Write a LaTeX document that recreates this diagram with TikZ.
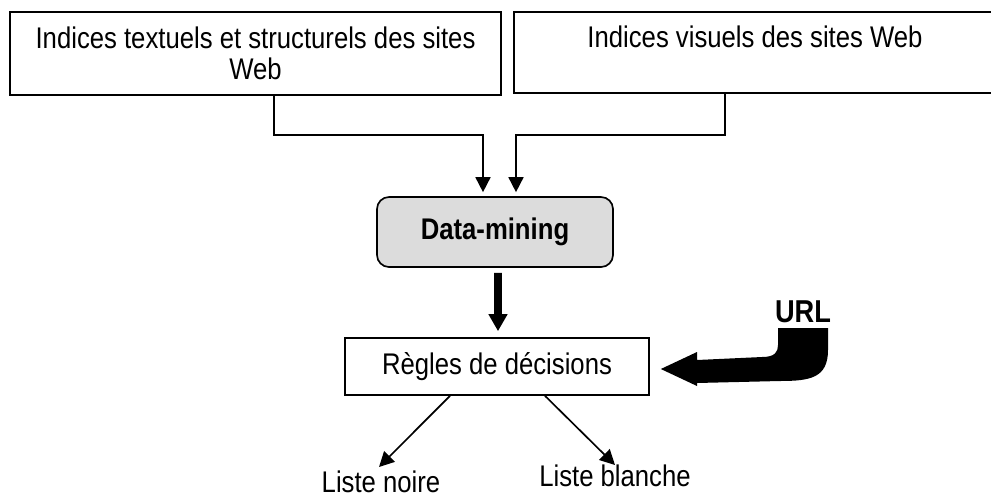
\documentclass[tikz,border=0pt]{standalone}
\usepackage{fontspec}
\setmainfont{Liberation Sans}[FakeStretch=0.86]
\usepackage{tikz}
\usetikzlibrary{calc}
\usetikzlibrary{arrows.meta}
\definecolor{grismine}{HTML}{DCDCDC}
\newcommand{\taille}{\fontsize{17}{17.8}\selectfont}
\tikzstyle{every node}=[font=\taille]
\tikzstyle{every path}=[line width=0.95pt,line join=miter]

\begin{document}
\begin{tikzpicture}
		\tikzstyle{cadre} = [draw,align=center,inner sep=0pt]
		\tikzstyle{fleche} = [-{Triangle[length=3mm, width=3mm]}]
		\useasboundingbox (0,0) rectangle (19.82,-9.98);
		
		\node[cadre,minimum width=9.82cm,minimum height=1.66cm] (textuels) at (5.11,-1.07) {Indices textuels et structurels des sites\\Web};
		\node[cadre,minimum width=9.64cm,minimum height=1.62cm] (visuels) at (15.10,-1.05) {Indices visuels des sites Web\\\mbox{}};
		
		\node[cadre,fill=grismine,rounded corners=0.24cm,minimum width=4.72cm,minimum height=1.4cm,font=\bfseries\taille] (mining) at (9.90,-4.64) {Data-mining};
		\node[cadre,minimum width=6.08cm,minimum height=1.14cm] (regles) at (9.94,-7.33) {Règles de décisions};
		
		\node[anchor=north,inner sep=0pt] (noire) at (7.62,-9.40) {Liste noire};
		\node[anchor=north,inner sep=0pt] (blanche) at (12.30,-9.28) {Liste blanche};
		\node[font=\bfseries\fontsize{18}{19}\selectfont] (url) at (16.06,-6.24) {URL};
		
		\draw[fleche] ($(textuels.south)+(0.37,0)$) -- ++(0,-0.78) -| ($(mining.north)+(-0.24,0.08)$);
		\draw[fleche] ($(visuels.south)+(-0.60,0)$) -- ++(0,-0.82) -| ($(mining.north)+(0.42,0.08)$);
		\draw[line width=4.5pt,-{Triangle[length=3.4mm, width=3.6mm]}] ($(mining.south)+(0.06,-0.1)$) -- ($(regles.north)+(0.02,0.12)$);
		
		\draw[fleche] ($(regles.south)+(-0.94,0)$) -- ($(noire.north)+(-0.04,0.06)$);
		\draw[fleche] ($(regles.south)+(0.96,0)$) -- ($(blanche.north)+(0,-0.02)$);
		
		\coordinate (pointe) at ($(regles.east)+(0.22,-0.05)$);
		\fill (15.56,-6.56) -- (16.56,-6.56) -- (16.56,-7.00)
			.. controls (16.56,-7.56) and (16.20,-7.62) .. (15.60,-7.62)
			-- (13.94,-7.66) -- (13.94,-7.72) -- (pointe) -- (13.94,-7.04) -- (13.94,-7.20) -- (15.24,-7.14)
			.. controls (15.50,-7.14) and (15.56,-7.04) .. (15.56,-6.90) -- cycle;
		
	\end{tikzpicture}
\end{document}
